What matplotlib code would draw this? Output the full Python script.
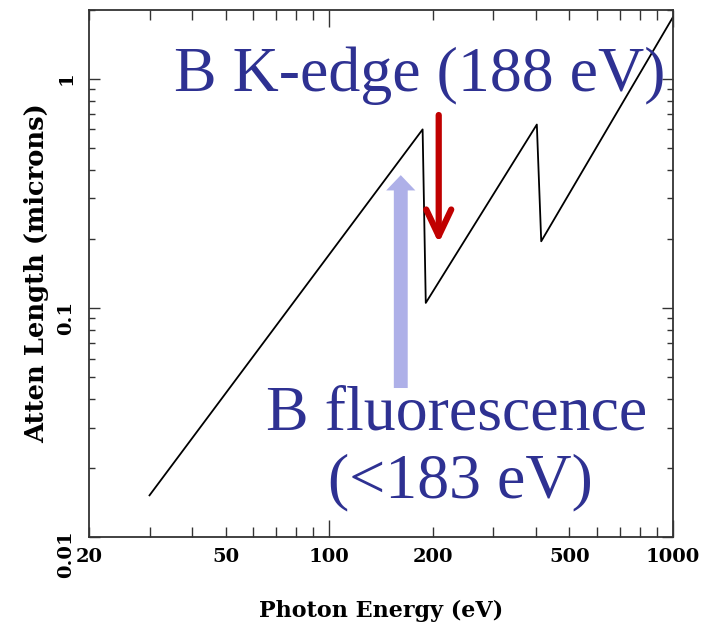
import matplotlib
matplotlib.use('Agg')
import matplotlib.pyplot as plt

# attenuation length vs photon energy (log-log)
energy = [30, 187, 191, 402, 414, 1000]
atten = [0.0152, 0.60, 0.105, 0.63, 0.195, 1.85]

x_major = [100, 1000]
x_major_labels = ['100', '1000']
x_minor = [20, 30, 40, 50, 60, 70, 80, 90, 200, 300, 400, 500, 600, 700, 800, 900]
x_minor_labels = ['20', '', '', '50', '', '', '', '', '200', '', '', '500', '', '', '', '']
y_major = [0.01, 0.1, 1]
y_major_labels = ['0.01', '0.1', '1']
y_minor = [0.02, 0.03, 0.04, 0.05, 0.06, 0.07, 0.08, 0.09,
           0.2, 0.3, 0.4, 0.5, 0.6, 0.7, 0.8, 0.9, 2]

edge_text = 'B K-edge (188 eV)'
fluor_text = 'B fluorescence'
fluor_text2 = '(<183 eV)'

NAVY = '#2E3192'
RED = '#C00000'
LILAC = '#AEB0E8'
AXFONT = 'DejaVu Serif'

fig = plt.figure(figsize=(7.12, 6.35), dpi=100)
ax = fig.add_axes([0.125, 0.1543, 0.820, 0.8307])

ax.plot(energy, atten, color='black', lw=1.3)
ax.set_xscale('log')
ax.set_yscale('log')
ax.set_xlim(20, 1000)
ax.set_ylim(0.01, 2.0)

ax.set_xticks(x_major)
ax.set_xticklabels(x_major_labels)
ax.set_xticks(x_minor, minor=True)
ax.set_xticklabels(x_minor_labels, minor=True)
ax.set_yticks(y_major)
ax.set_yticklabels(y_major_labels)
ax.set_yticks(y_minor, minor=True)
ax.set_yticklabels([''] * len(y_minor), minor=True)

ax.tick_params(which='both', direction='in', top=True, right=True, width=1.0, color='#333')
ax.tick_params(axis='x', which='major', length=12, pad=8)
ax.tick_params(axis='x', which='minor', length=7, pad=8)
ax.tick_params(axis='y', which='major', length=8, pad=10, labelrotation=90)
ax.tick_params(axis='y', which='minor', length=4.5)
for lab in ax.get_xticklabels(which='both') + ax.get_yticklabels():
    lab.set_fontfamily(AXFONT)
    lab.set_fontweight('bold')
    lab.set_fontsize(14)
for s in ax.spines.values():
    s.set_linewidth(1.3)
    s.set_color('#333')

ax.set_xlabel('Photon Energy (eV)', fontfamily=AXFONT, fontweight='bold', fontsize=16, labelpad=24)
ax.set_ylabel('Atten Length (microns)', fontfamily=AXFONT, fontweight='bold', fontsize=18.5, labelpad=6)

# arrows
ax.annotate('', xy=(0.599, 0.557), xytext=(0.599, 0.80), xycoords='axes fraction',
            arrowprops=dict(arrowstyle='->,head_length=0.95,head_width=0.45', lw=4.5,
                            color=RED, mutation_scale=20, shrinkA=0, shrinkB=0))
ax.annotate('', xy=(0.534, 0.686), xytext=(0.534, 0.2825), xycoords='axes fraction',
            arrowprops=dict(arrowstyle='simple,head_length=1.1,head_width=2.1,tail_width=1.0',
                            color=LILAC, mutation_scale=10, shrinkA=0, shrinkB=0, lw=0))

# annotations
fig.text(0.590, 0.857, edge_text, fontfamily='Liberation Serif', fontsize=46,
         color=NAVY, ha='center', va='baseline')
fig.text(0.642, 0.323, fluor_text, fontfamily='Liberation Serif', fontsize=46,
         color=NAVY, ha='center', va='baseline')
fig.text(0.646, 0.217, fluor_text2, fontfamily='Liberation Serif', fontsize=46,
         color=NAVY, ha='center', va='baseline')

fig.savefig('out.png', dpi=100)
